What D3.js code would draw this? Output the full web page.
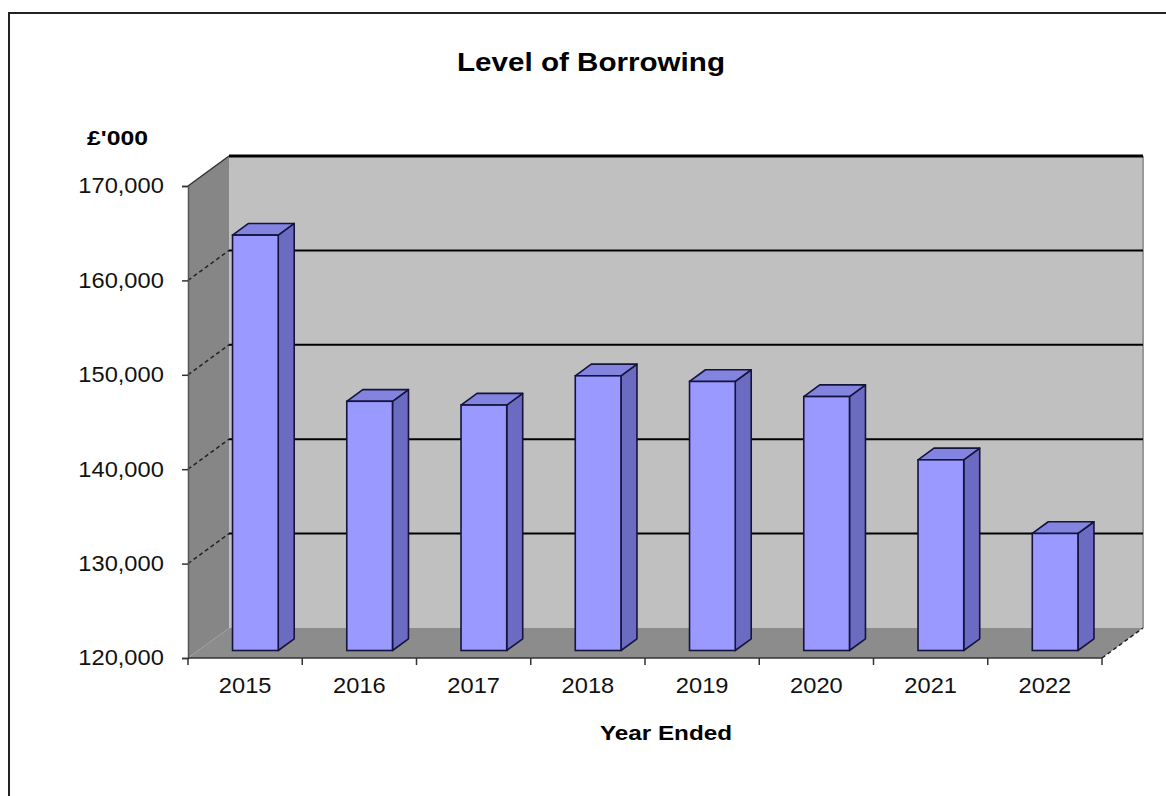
<!DOCTYPE html>
<html>
<head>
<meta charset="utf-8">
<script src="https://cdn.jsdelivr.net/npm/d3@7"></script>
<style>
  body { margin: 0; background: #fff; }
  svg { display: block; font-family: "Liberation Sans", Arial, sans-serif; }
</style>
</head>
<body>
<div id="chart"></div>
<script>
// data
var years = ['2015', '2016', '2017', '2018', '2019', '2020', '2021', '2022'];
var borrowing = [164000, 146400, 146000, 149100, 148500, 146900, 140200, 132400];
var yTicks = [120000, 130000, 140000, 150000, 160000, 170000];

var width = 1166;
var height = 796;

// front plane of the 3d plot box
var plotLeft = 188;
var plotRight = 1102;
var plotTop = 186;
var plotBottom = 658;
// depth offset of the back wall
var depthX = 41;
var depthY = -30;
// where the bars sit inside the depth
var barFront = 0.25;
var barBack = 0.64;
// labels in the original are a little wide
var stretch = 'scale(1.1,1)';

var svg = d3.select('div#chart')
    .append('svg')
    .attr('width', width)
    .attr('height', height);

// chart border (only top and left are in the picture)
svg.append('path')
    .attr('d', 'M9,800 L9,13 L1170,13')
    .attr('fill', 'none')
    .attr('stroke', '#222')
    .attr('stroke-width', 2);

var x = d3.scaleBand()
    .domain(years)
    .range([plotLeft, plotRight])
    .paddingInner(0.6)
    .paddingOuter(0.3);

var y = d3.scaleLinear()
    .domain([120000, 170000])
    .range([plotBottom, plotTop]);

function pts(list) {
    return list.map(function(p) { return p[0] + ',' + p[1]; }).join(' ');
}

// back wall
svg.append('rect')
    .attr('x', plotLeft + depthX)
    .attr('y', plotTop + depthY)
    .attr('width', plotRight - plotLeft)
    .attr('height', plotBottom - plotTop)
    .attr('fill', '#c0c0c0');

svg.append('line')
    .attr('x1', plotRight + depthX).attr('x2', plotRight + depthX)
    .attr('y1', plotTop + depthY).attr('y2', plotBottom + depthY)
    .attr('stroke', '#999').attr('stroke-width', 2);

// side wall
svg.append('polygon')
    .attr('points', pts([[plotLeft, plotBottom], [plotLeft, plotTop],
        [plotLeft + depthX, plotTop + depthY], [plotLeft + depthX, plotBottom + depthY]]))
    .attr('fill', '#868686');

// floor
svg.append('polygon')
    .attr('points', pts([[plotLeft, plotBottom], [plotRight, plotBottom],
        [plotRight + depthX, plotBottom + depthY], [plotLeft + depthX, plotBottom + depthY]]))
    .attr('fill', '#8c8c8c');

// gridlines: on back wall solid, on side wall dashed
yTicks.slice(1).forEach(function(t) {
    var gy = y(t);
    svg.append('line')
        .attr('x1', plotLeft + depthX).attr('x2', plotRight + depthX)
        .attr('y1', gy + depthY).attr('y2', gy + depthY)
        .attr('stroke', '#000')
        .attr('stroke-width', t === 170000 ? 3 : 2);
    svg.append('line')
        .attr('x1', plotLeft).attr('x2', plotLeft + depthX)
        .attr('y1', gy).attr('y2', gy + depthY)
        .attr('stroke', t === 170000 ? '#333' : '#222')
        .attr('stroke-width', 1.5)
        .attr('stroke-dasharray', t === 170000 ? null : '4,3');
});

// floor right edge
svg.append('line')
    .attr('x1', plotRight).attr('x2', plotRight + depthX)
    .attr('y1', plotBottom).attr('y2', plotBottom + depthY)
    .attr('stroke', '#222').attr('stroke-width', 1.5)
    .attr('stroke-dasharray', '4,3');

// bars
var bw = x.bandwidth();
var fdx = barFront * depthX, fdy = barFront * depthY;
var bdx = (barBack - barFront) * depthX, bdy = (barBack - barFront) * depthY;

var bars = svg.append('g').selectAll('g')
    .data(years)
    .enter()
    .append('g');

bars.each(function(d, i) {
    var g = d3.select(this);
    var x0 = x(d) + fdx;
    var yb = y(120000) + fdy;
    var yt = y(borrowing[i]) + fdy;
    // side
    g.append('polygon')
        .attr('points', pts([[x0 + bw, yt], [x0 + bw + bdx, yt + bdy],
            [x0 + bw + bdx, yb + bdy], [x0 + bw, yb]]))
        .attr('fill', '#6b6bc2')
        .attr('stroke', '#14143c').attr('stroke-width', 1.6)
        .attr('stroke-linejoin', 'round');
    // top
    g.append('polygon')
        .attr('points', pts([[x0, yt], [x0 + bdx, yt + bdy],
            [x0 + bw + bdx, yt + bdy], [x0 + bw, yt]]))
        .attr('fill', '#8383e0')
        .attr('stroke', '#14143c').attr('stroke-width', 1.6)
        .attr('stroke-linejoin', 'round');
    // front
    g.append('rect')
        .attr('x', x0).attr('y', yt)
        .attr('width', bw).attr('height', yb - yt)
        .attr('fill', '#9999ff')
        .attr('stroke', '#14143c').attr('stroke-width', 1.6);
});

// value axis
var yAxis = svg.append('g')
    .attr('transform', 'translate(' + plotLeft + ',0)')
    .call(d3.axisLeft(y)
        .tickValues(yTicks)
        .tickFormat(d3.format(','))
        .tickSize(6)
        .tickPadding(16));
yAxis.select('.domain').attr('stroke', '#555').attr('stroke-width', 1.5);
yAxis.selectAll('.tick line').attr('stroke', '#333').attr('stroke-width', 1.5);
yAxis.selectAll('.tick text')
    .attr('fill', '#111')
    .attr('transform', stretch)
    .style('font-size', '21.5px')
    .style('font-family', '"Liberation Sans", Arial, sans-serif');

// category axis
svg.append('line')
    .attr('x1', plotLeft).attr('x2', plotRight)
    .attr('y1', plotBottom).attr('y2', plotBottom)
    .attr('stroke', '#333').attr('stroke-width', 1.5);

d3.range(years.length + 1).forEach(function(i) {
    var tx = plotLeft + i * x.step();
    svg.append('line')
        .attr('x1', tx).attr('x2', tx)
        .attr('y1', plotBottom).attr('y2', plotBottom + 7)
        .attr('stroke', '#333').attr('stroke-width', 1.5);
});

svg.append('g').selectAll('g')
    .data(years)
    .enter()
    .append('g')
    .attr('transform', function(d) { return 'translate(' + (x(d) + bw / 2) + ',693)'; })
    .append('text')
    .attr('transform', stretch)
    .attr('text-anchor', 'middle')
    .attr('fill', '#111')
    .style('font-size', '21.5px')
    .text(function(d) { return d; });

// titles
svg.append('text')
    .attr('x', 591).attr('y', 71)
    .attr('text-anchor', 'middle')
    .attr('textLength', 268).attr('lengthAdjust', 'spacingAndGlyphs')
    .style('font-size', '25px').style('font-weight', 'bold')
    .text('Level of Borrowing');

svg.append('text')
    .attr('x', 87).attr('y', 145)
    .attr('textLength', 61).attr('lengthAdjust', 'spacingAndGlyphs')
    .style('font-size', '21px').style('font-weight', 'bold')
    .text("£'000");

svg.append('text')
    .attr('x', 666).attr('y', 740)
    .attr('text-anchor', 'middle')
    .attr('textLength', 132).attr('lengthAdjust', 'spacingAndGlyphs')
    .style('font-size', '21px').style('font-weight', 'bold')
    .text('Year Ended');
</script>
</body>
</html>
